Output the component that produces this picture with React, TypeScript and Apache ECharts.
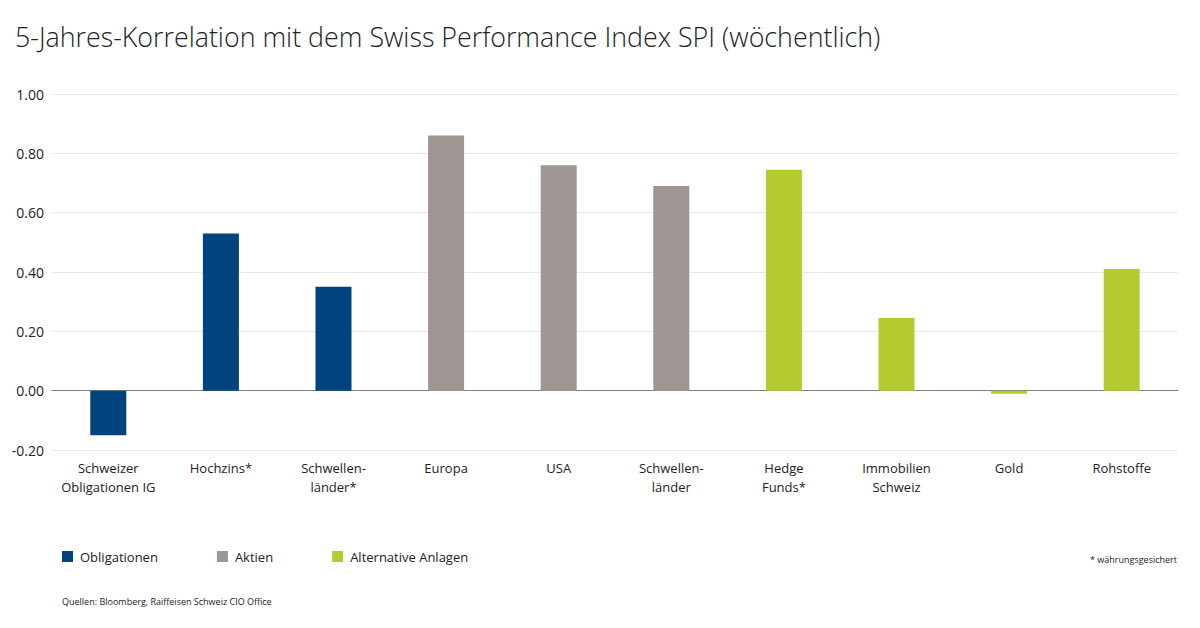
import React, { useEffect, useRef } from "react";
import * as echarts from "echarts";

const categories = [
  "Schweizer\nObligationen IG",
  "Hochzins*",
  "Schwellen-\nländer*",
  "Europa",
  "USA",
  "Schwellen-\nländer",
  "Hedge\nFunds*",
  "Immobilien\nSchweiz",
  "Gold",
  "Rohstoffe",
];
const obligationen = [-0.15, 0.53, 0.35, null, null, null, null, null, null, null];
const aktien = [null, null, null, 0.86, 0.76, 0.69, null, null, null, null];
const alternative = [null, null, null, null, null, null, 0.745, 0.245, -0.01, 0.41];
const seriesNames = ["Obligationen", "Aktien", "Alternative Anlagen"];
const colors = ["#00437f", "#9e9692", "#b5ca2e"];

const FONT = "'Open Sans', 'Noto Sans', sans-serif";

export default function App() {
  const ref = useRef<HTMLDivElement>(null);
  useEffect(() => {
    if (!ref.current) return;
    const chart = echarts.init(ref.current, undefined, { renderer: "svg" });
    const mk = (name: string, data: (number | null)[], color: string) => ({
      name,
      type: "bar",
      data,
      barWidth: 36,
      barGap: "-100%",
      itemStyle: { color },
    });
    chart.setOption({
      animation: false,
      textStyle: { fontFamily: FONT },
      title: {
        text: "5-Jahres-Korrelation mit dem Swiss Performance Index SPI (wöchentlich)",
        left: 10,
        top: 18,
        textStyle: { fontFamily: FONT, fontSize: 26.8, fontWeight: 300, color: "#222" },
      },
      legend: {
        left: 62,
        top: 550,
        padding: 0,
        icon: "rect",
        itemWidth: 11,
        itemHeight: 11,
        itemGap: 59,
        textStyle: { fontFamily: FONT, fontSize: 13, color: "#222", padding: [0, 0, 0, 2] },
        data: seriesNames,
      },
      grid: { left: 52, right: 22, top: 94, bottom: 178, containLabel: false },
      xAxis: {
        type: "category",
        data: categories,
        axisTick: { show: false },
        axisLine: { show: true, onZero: true, lineStyle: { color: "#7f7f7f", width: 1 } },
        axisLabel: {
          interval: 0,
          fontFamily: FONT,
          fontSize: 13,
          color: "#222",
          lineHeight: 19,
          margin: 8,
        },
        position: "bottom",
      },
      yAxis: {
        type: "value",
        min: -0.2,
        max: 1,
        interval: 0.2,
        axisLine: { show: false },
        axisTick: { show: false },
        splitLine: { lineStyle: { color: "#e8e8e8", width: 1 } },
        axisLabel: {
          fontFamily: FONT,
          fontSize: 14,
          color: "#222",
          margin: 8,
          formatter: (v: number) => v.toFixed(2),
        },
      },
      series: [
        mk(seriesNames[0], obligationen, colors[0]),
        mk(seriesNames[1], aktien, colors[1]),
        mk(seriesNames[2], alternative, colors[2]),
      ],
      graphic: [
        {
          type: "text",
          right: 23,
          top: 555,
          style: { text: "* währungsgesichert", font: `9px ${FONT}`, fill: "#222" },
        },
        {
          type: "text",
          left: 62,
          top: 597,
          style: { text: "Quellen: Bloomberg, Raiffeisen Schweiz CIO Office", font: `9px ${FONT}`, fill: "#222" },
        },
      ],
    });
    return () => chart.dispose();
  }, []);
  return (
    <div
      ref={ref}
      style={{ position: "fixed", left: 0, top: 0, width: 1200, height: 628, background: "#fff" }}
    />
  );
}
